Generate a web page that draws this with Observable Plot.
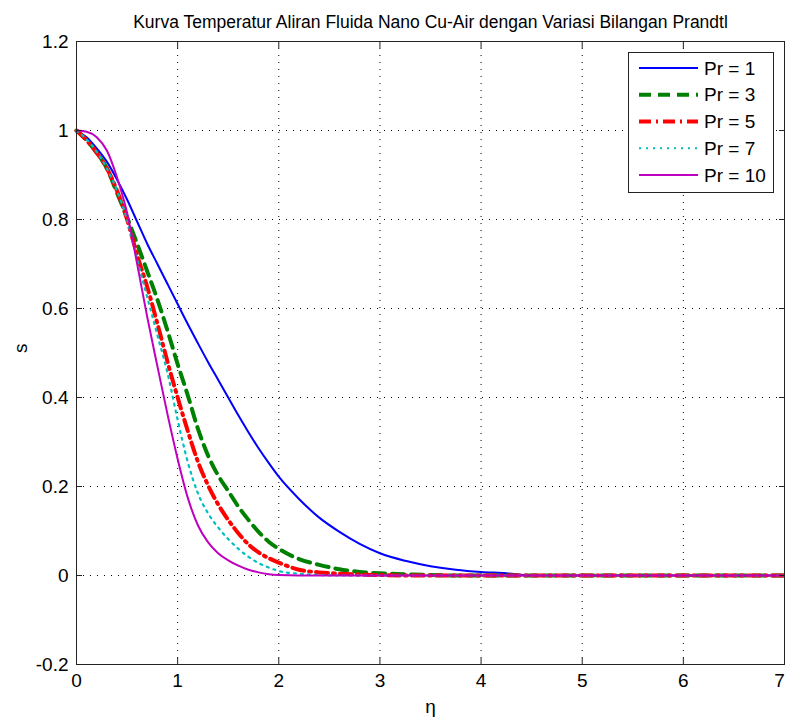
<!DOCTYPE html>
<html>
<head>
<meta charset="utf-8">
<script src="https://cdn.jsdelivr.net/npm/d3@7"></script>
<script src="https://cdn.jsdelivr.net/npm/@observablehq/plot@0.6"></script>
<style>
  body { margin: 0; background: #fff; }
  #wrap { position: relative; width: 785px; height: 720px; font-family: "Liberation Sans", Arial, sans-serif; }
  #legend { position: absolute; left: 628px; top: 52px; width: 144px; height: 139px; border: 1px solid #222; background: #fff; }
</style>
</head>
<body>
<div id="wrap"></div>
<script>
const title = "Kurva Temperatur Aliran Fluida Nano Cu-Air dengan Variasi Bilangan Prandtl";
const xLabel = "η";
const yLabel = "s";
const xTicks = [0, 1, 2, 3, 4, 5, 6, 7];
const xTickLabels = ["0", "1", "2", "3", "4", "5", "6", "7"];
const yTicks = [-0.2, 0, 0.2, 0.4, 0.6, 0.8, 1, 1.2];
const yTickLabels = ["-0.2", "0", "0.2", "0.4", "0.6", "0.8", "1", "1.2"];

const eta = [0, 0.1, 0.2, 0.3, 0.4, 0.5, 0.6, 0.7, 0.8, 0.9, 1.0, 1.1, 1.2, 1.3, 1.4, 1.5, 1.6, 1.7, 1.8, 1.9, 2.0,
             2.2, 2.4, 2.6, 2.8, 3.0, 3.25, 3.5, 3.75, 4.0, 4.25, 4.5, 5, 6, 7];
const sPr1  = [1, 0.985, 0.96, 0.93, 0.89, 0.845, 0.795, 0.745, 0.70, 0.655, 0.61, 0.565, 0.522, 0.48, 0.44, 0.40, 0.36, 0.322, 0.286, 0.253, 0.222,
               0.172, 0.13, 0.098, 0.071, 0.05, 0.033, 0.021, 0.013, 0.008, 0.005, 0, 0, 0, 0];
const sPr3  = [1, 0.978, 0.95, 0.915, 0.86, 0.805, 0.745, 0.683, 0.62, 0.55, 0.475, 0.405, 0.33, 0.27, 0.225, 0.19, 0.155, 0.125, 0.098, 0.076, 0.06,
               0.037, 0.024, 0.014, 0.008, 0.005, 0.003, 0.001, 0, 0, 0, 0, 0, 0, 0];
const sPr5  = [1, 0.978, 0.95, 0.915, 0.865, 0.80, 0.72, 0.648, 0.566, 0.48, 0.40, 0.325, 0.256, 0.203, 0.16, 0.125, 0.095, 0.07, 0.052, 0.039, 0.029,
               0.013, 0.007, 0.004, 0.002, 0.001, 0, 0, 0, 0, 0, 0, 0, 0, 0];
const sPr7  = [1, 0.98, 0.952, 0.915, 0.865, 0.80, 0.71, 0.625, 0.54, 0.455, 0.35, 0.255, 0.185, 0.14, 0.108, 0.082, 0.06, 0.042, 0.028, 0.018, 0.01,
               0.004, 0.001, 0, 0, 0, 0, 0, 0, 0, 0, 0, 0, 0, 0];
const sPr10 = [1, 0.997, 0.985, 0.955, 0.895, 0.815, 0.70, 0.58, 0.47, 0.362, 0.262, 0.175, 0.113, 0.075, 0.05, 0.034, 0.022, 0.013, 0.007, 0.003, 0.001,
               0, 0, 0, 0, 0, 0, 0, 0, 0, 0, 0, 0, 0, 0];

const seriesNames = ["Pr = 1", "Pr = 3", "Pr = 5", "Pr = 7", "Pr = 10"];
const seriesValues = [sPr1, sPr3, sPr5, sPr7, sPr10];

// styles (kept apart from data)
const colors = ["#0000ff", "#008000", "#ff0000", "#00bfbf", "#bf00bf"];
const widths = [2, 4, 4, 2.2, 2];
const dashes = [null, "12,7", "12,5,2,5", "2,5", null];

const rows = seriesNames.flatMap((name, k) => eta.map((e, i) => ({series: name, eta: e, s: seriesValues[k][i]})));

const fmtX = d => xTickLabels[xTicks.indexOf(d)];
const fmtY = d => yTickLabels[yTicks.indexOf(d)];
const lastX = xTicks[xTicks.length - 1];

const lineMarks = seriesNames.map((name, k) =>
  Plot.line(rows.filter(r => r.series === name), {
    x: "eta", y: "s", stroke: colors[k], strokeWidth: widths[k],
    strokeDasharray: dashes[k] ?? undefined, curve: "monotone-x"
  })
);

const chart = Plot.plot({
  width: 785,
  height: 720,
  marginLeft: 76,
  marginRight: 1,
  marginTop: 41,
  marginBottom: 56,
  style: {fontFamily: "'Liberation Sans', Arial, sans-serif", fontSize: "19px", color: "#000", background: "#fff"},
  x: {domain: [0, 7]},
  y: {domain: [-0.2, 1.2]},
  marks: [
    Plot.gridX({ticks: xTicks, stroke: "#000", strokeOpacity: 1, strokeWidth: 1, strokeDasharray: "1,6"}),
    Plot.gridY({ticks: yTicks, stroke: "#000", strokeOpacity: 1, strokeWidth: 1, strokeDasharray: "1,6"}),
    ...lineMarks,
    Plot.axisX({ticks: xTicks.filter(t => t !== lastX), anchor: "bottom", tickSize: 0, tickPadding: 9, tickFormat: fmtX, label: null, fontSize: 19}),
    Plot.axisX({ticks: [lastX], anchor: "bottom", tickSize: 0, tickPadding: 9, tickFormat: fmtX, label: null, fontSize: 19, dx: -5}),
    Plot.axisY({ticks: yTicks, anchor: "left", tickSize: 0, tickPadding: 8, tickFormat: fmtY, label: null, fontSize: 19}),
    Plot.axisX({ticks: xTicks, anchor: "bottom", tickSize: -6, tickFormat: () => "", label: null, stroke: "#222"}),
    Plot.axisX({ticks: xTicks, anchor: "top", tickSize: -6, tickFormat: () => "", label: null, stroke: "#222"}),
    Plot.axisY({ticks: yTicks, anchor: "left", tickSize: -6, tickFormat: () => "", label: null, stroke: "#222"}),
    Plot.axisY({ticks: yTicks, anchor: "right", tickSize: -6, tickFormat: () => "", label: null, stroke: "#222"}),
    Plot.frame({stroke: "#222"}),
    Plot.text([title], {text: d => d, frameAnchor: "top", lineAnchor: "bottom", dy: -14, fontSize: 17.5, fill: "#000"}),
    Plot.text([xLabel], {text: d => d, frameAnchor: "bottom", lineAnchor: "middle", dy: 42, fontSize: 19, fill: "#000"}),
    Plot.text([yLabel], {text: d => d, frameAnchor: "left", lineAnchor: "middle", dx: -56, rotate: -90, fontSize: 19, fill: "#000"})
  ]
});

const wrap = document.getElementById("wrap");
wrap.appendChild(chart);

// legend overlay
const legend = document.createElement("div");
legend.id = "legend";
const ns = "http://www.w3.org/2000/svg";
const lsvg = document.createElementNS(ns, "svg");
lsvg.setAttribute("width", 144);
lsvg.setAttribute("height", 139);
seriesNames.forEach((name, k) => {
  const y = 15 + k * 26.75;
  const ln = document.createElementNS(ns, "line");
  ln.setAttribute("x1", 10); ln.setAttribute("x2", 69);
  ln.setAttribute("y1", y); ln.setAttribute("y2", y);
  ln.setAttribute("stroke", colors[k]);
  ln.setAttribute("stroke-width", widths[k]);
  if (dashes[k]) ln.setAttribute("stroke-dasharray", dashes[k]);
  lsvg.appendChild(ln);
  const t = document.createElementNS(ns, "text");
  t.setAttribute("x", 75); t.setAttribute("y", y);
  t.setAttribute("dy", "0.35em");
  t.setAttribute("font-size", 19);
  t.setAttribute("font-family", "'Liberation Sans', Arial, sans-serif");
  t.setAttribute("fill", "#000");
  t.textContent = name;
  lsvg.appendChild(t);
});
legend.appendChild(lsvg);
wrap.appendChild(legend);
</script>
</body>
</html>
